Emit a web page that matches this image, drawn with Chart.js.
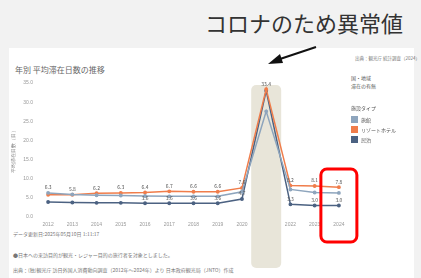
<!DOCTYPE html>
<html>
<head>
<meta charset="utf-8">
<script src="https://cdn.jsdelivr.net/npm/chart.js@4"></script>
<style>
  html, body { margin: 0; padding: 0; }
  body { width: 421px; height: 278px; background: #f2f2f2; position: relative; overflow: hidden;
         font-family: "Noto Sans CJK JP", "Noto Sans", sans-serif; }
  #panel { position: absolute; left: 9px; top: 48px; width: 405px; height: 230px; background: #fff; }
  #chartBox { position: absolute; left: 9px; top: 48px; width: 405px; height: 230px; }
  .t { position: absolute; white-space: nowrap; color: #777; }
</style>
</head>
<body>
<div id="panel"></div>
<div class="t" style="left:205px;top:6px;font-size:22px;color:#333;">コロナのため異常値</div>
<div class="t" style="left:15px;top:64px;font-size:8px;color:#666;">年別 平均滞在日数の推移</div>
<div class="t" style="left:355px;top:55px;font-size:4.5px;">出典：観光庁 統計調査（2024）</div>
<div class="t" style="left:351px;top:74px;font-size:5px;color:#555;">国・地域</div>
<div class="t" style="left:351px;top:82px;font-size:5px;color:#555;">滞在の有無</div>
<div class="t" style="left:13px;top:230px;font-size:5px;">データ更新日:2025年05月10日 1:11:17</div>
<div class="t" style="left:13px;top:251px;font-size:5px;">●日本への来訪目的が観光・レジャー目的の旅行者を対象としました。</div>
<div class="t" style="left:13px;top:266px;font-size:5px;">出典：(独)観光庁 訪日外国人消費動向調査（2012年～2024年）より 日本政府観光局（JNTO）作成</div>
<div id="chartBox"><canvas id="c" width="405" height="230"></canvas></div>
<svg style="position:absolute;left:0;top:0" width="421" height="278">
  <line x1="316" y1="47" x2="277" y2="60" stroke="#111" stroke-width="2"/>
  <polygon points="268,64 280,54 283,63" fill="#111"/>
</svg>
<script>
// categories and series values
const years = ['2012', '2013', '2014', '2015', '2016', '2017', '2018', '2019', '2020', '2021', '2022', '2023', '2024'];
const ryokan = [6.3, 5.9, 5.7, 5.6, 5.5, 5.4, 5.4, 5.4, 6.6, 27.6, 7.2, 6.4, 6.3];
const resort = [5.8, 5.8, 6.2, 6.3, 6.4, 6.7, 6.6, 6.6, 7.6, 33.4, 8.2, 8.1, 7.8];
const other = [3.9, 3.8, 3.7, 3.7, 3.6, 3.6, 3.6, 3.6, 4.7, 33.0, 3.3, 3.0, 3.0];
const seriesNames = ['旅館', 'リゾートホテル', '民泊'];
const legendTitle = '施設タイプ';
const yTicks = [0, 5, 10, 15, 20, 25, 30, 35];
// which points carry a value label
const labelIdx = [[0], [1, 2, 3, 4, 5, 6, 7, 8, 9, 10, 11, 12], [4, 5, 6, 7, 8, 10, 11, 12]];
const bandYear = '2021';
const boxYear = '2024';

function roundRect(ctx, x, y, w, h, r) {
    ctx.beginPath();
    ctx.moveTo(x + r, y);
    ctx.arcTo(x + w, y, x + w, y + h, r);
    ctx.arcTo(x + w, y + h, x, y + h, r);
    ctx.arcTo(x, y + h, x, y, r);
    ctx.arcTo(x, y, x + w, y, r);
    ctx.closePath();
}

// beige band behind the 2021 column and red box around 2024
const highlight = {
    id: 'highlight',
    beforeDatasetsDraw(chart) {
        const ctx = chart.ctx;
        const x = chart.scales.x.getPixelForValue(years.indexOf(bandYear));
        ctx.save();
        ctx.fillStyle = '#e8e5d9';
        roundRect(ctx, x - 15, 37, 30, 183, 5);
        ctx.fill();
        ctx.restore();
    },
    afterDraw(chart) {
        const ctx = chart.ctx;
        const x = chart.scales.x.getPixelForValue(years.indexOf(boxYear));
        ctx.save();
        ctx.strokeStyle = '#ff0000';
        ctx.lineWidth = 3;
        roundRect(ctx, x - 18, 121, 36, 73, 6);
        ctx.stroke();
        ctx.restore();
    }
};

// small value labels above points
const valueLabels = {
    id: 'valueLabels',
    afterDatasetsDraw(chart) {
        const ctx = chart.ctx;
        ctx.save();
        ctx.font = '5px "Noto Sans CJK JP", sans-serif';
        ctx.fillStyle = '#555';
        ctx.textAlign = 'center';
        ctx.textBaseline = 'bottom';
        chart.data.datasets.forEach((ds, i) => {
            const meta = chart.getDatasetMeta(i);
            labelIdx[i].forEach(j => {
                if (i === 2 && j === 9) return;
                const p = meta.data[j];
                ctx.fillText(ds.data[j].toFixed(1), p.x, p.y - 3);
            });
        });
        ctx.restore();
    }
};

const colors = ['#8ea5bd', '#f07d4b', '#4c6282'];

new Chart(document.getElementById('c'), {
    type: 'line',
    data: {
        labels: years,
        datasets: [ryokan, resort, other].map((d, i) => ({
            label: seriesNames[i],
            data: d,
            borderColor: colors[i],
            backgroundColor: colors[i],
            borderWidth: 1.5,
            pointRadius: 1.2,
            tension: 0
        }))
    },
    options: {
        responsive: false,
        animation: false,
        layout: { padding: { left: 2, right: 63, top: 35, bottom: 46 } },
        plugins: {
            legend: { display: false },
            tooltip: { enabled: false }
        },
        scales: {
            x: {
                offset: true,
                grid: { display: false, drawTicks: false },
                border: { display: false },
                ticks: { color: '#999', font: { size: 5 }, padding: 5, maxRotation: 0 },
                afterFit(s) { s.height = 15; }
            },
            y: {
                min: 0,
                max: 35,
                afterBuildTicks(s) { s.ticks = yTicks.map(v => ({ value: v })); },
                grid: { display: false, drawTicks: false },
                border: { display: false },
                ticks: { color: '#999', font: { size: 5 }, padding: 3, callback: v => v.toFixed(1) },
                title: { display: true, text: '平均滞在日数（日）', color: '#777', font: { size: 5 }, padding: 0 },
                afterFit(s) { s.width = 25; }
            }
        }
    },
    plugins: [highlight, valueLabels]
});

// legend drawn as html next to the chart
const lg = document.createElement('div');
lg.style.cssText = 'position:absolute;left:351px;top:104px;font-size:5px;color:#555;';
let html = '<div style="margin-bottom:3px">' + legendTitle + '</div>';
seriesNames.forEach((n, i) => {
    html += '<div style="display:flex;align-items:center;height:10px"><span style="display:inline-block;width:7px;height:7px;background:' + colors[i] + ';margin-right:3px"></span>' + n + '</div>';
});
lg.innerHTML = html;
document.body.appendChild(lg);
</script>
</body>
</html>
